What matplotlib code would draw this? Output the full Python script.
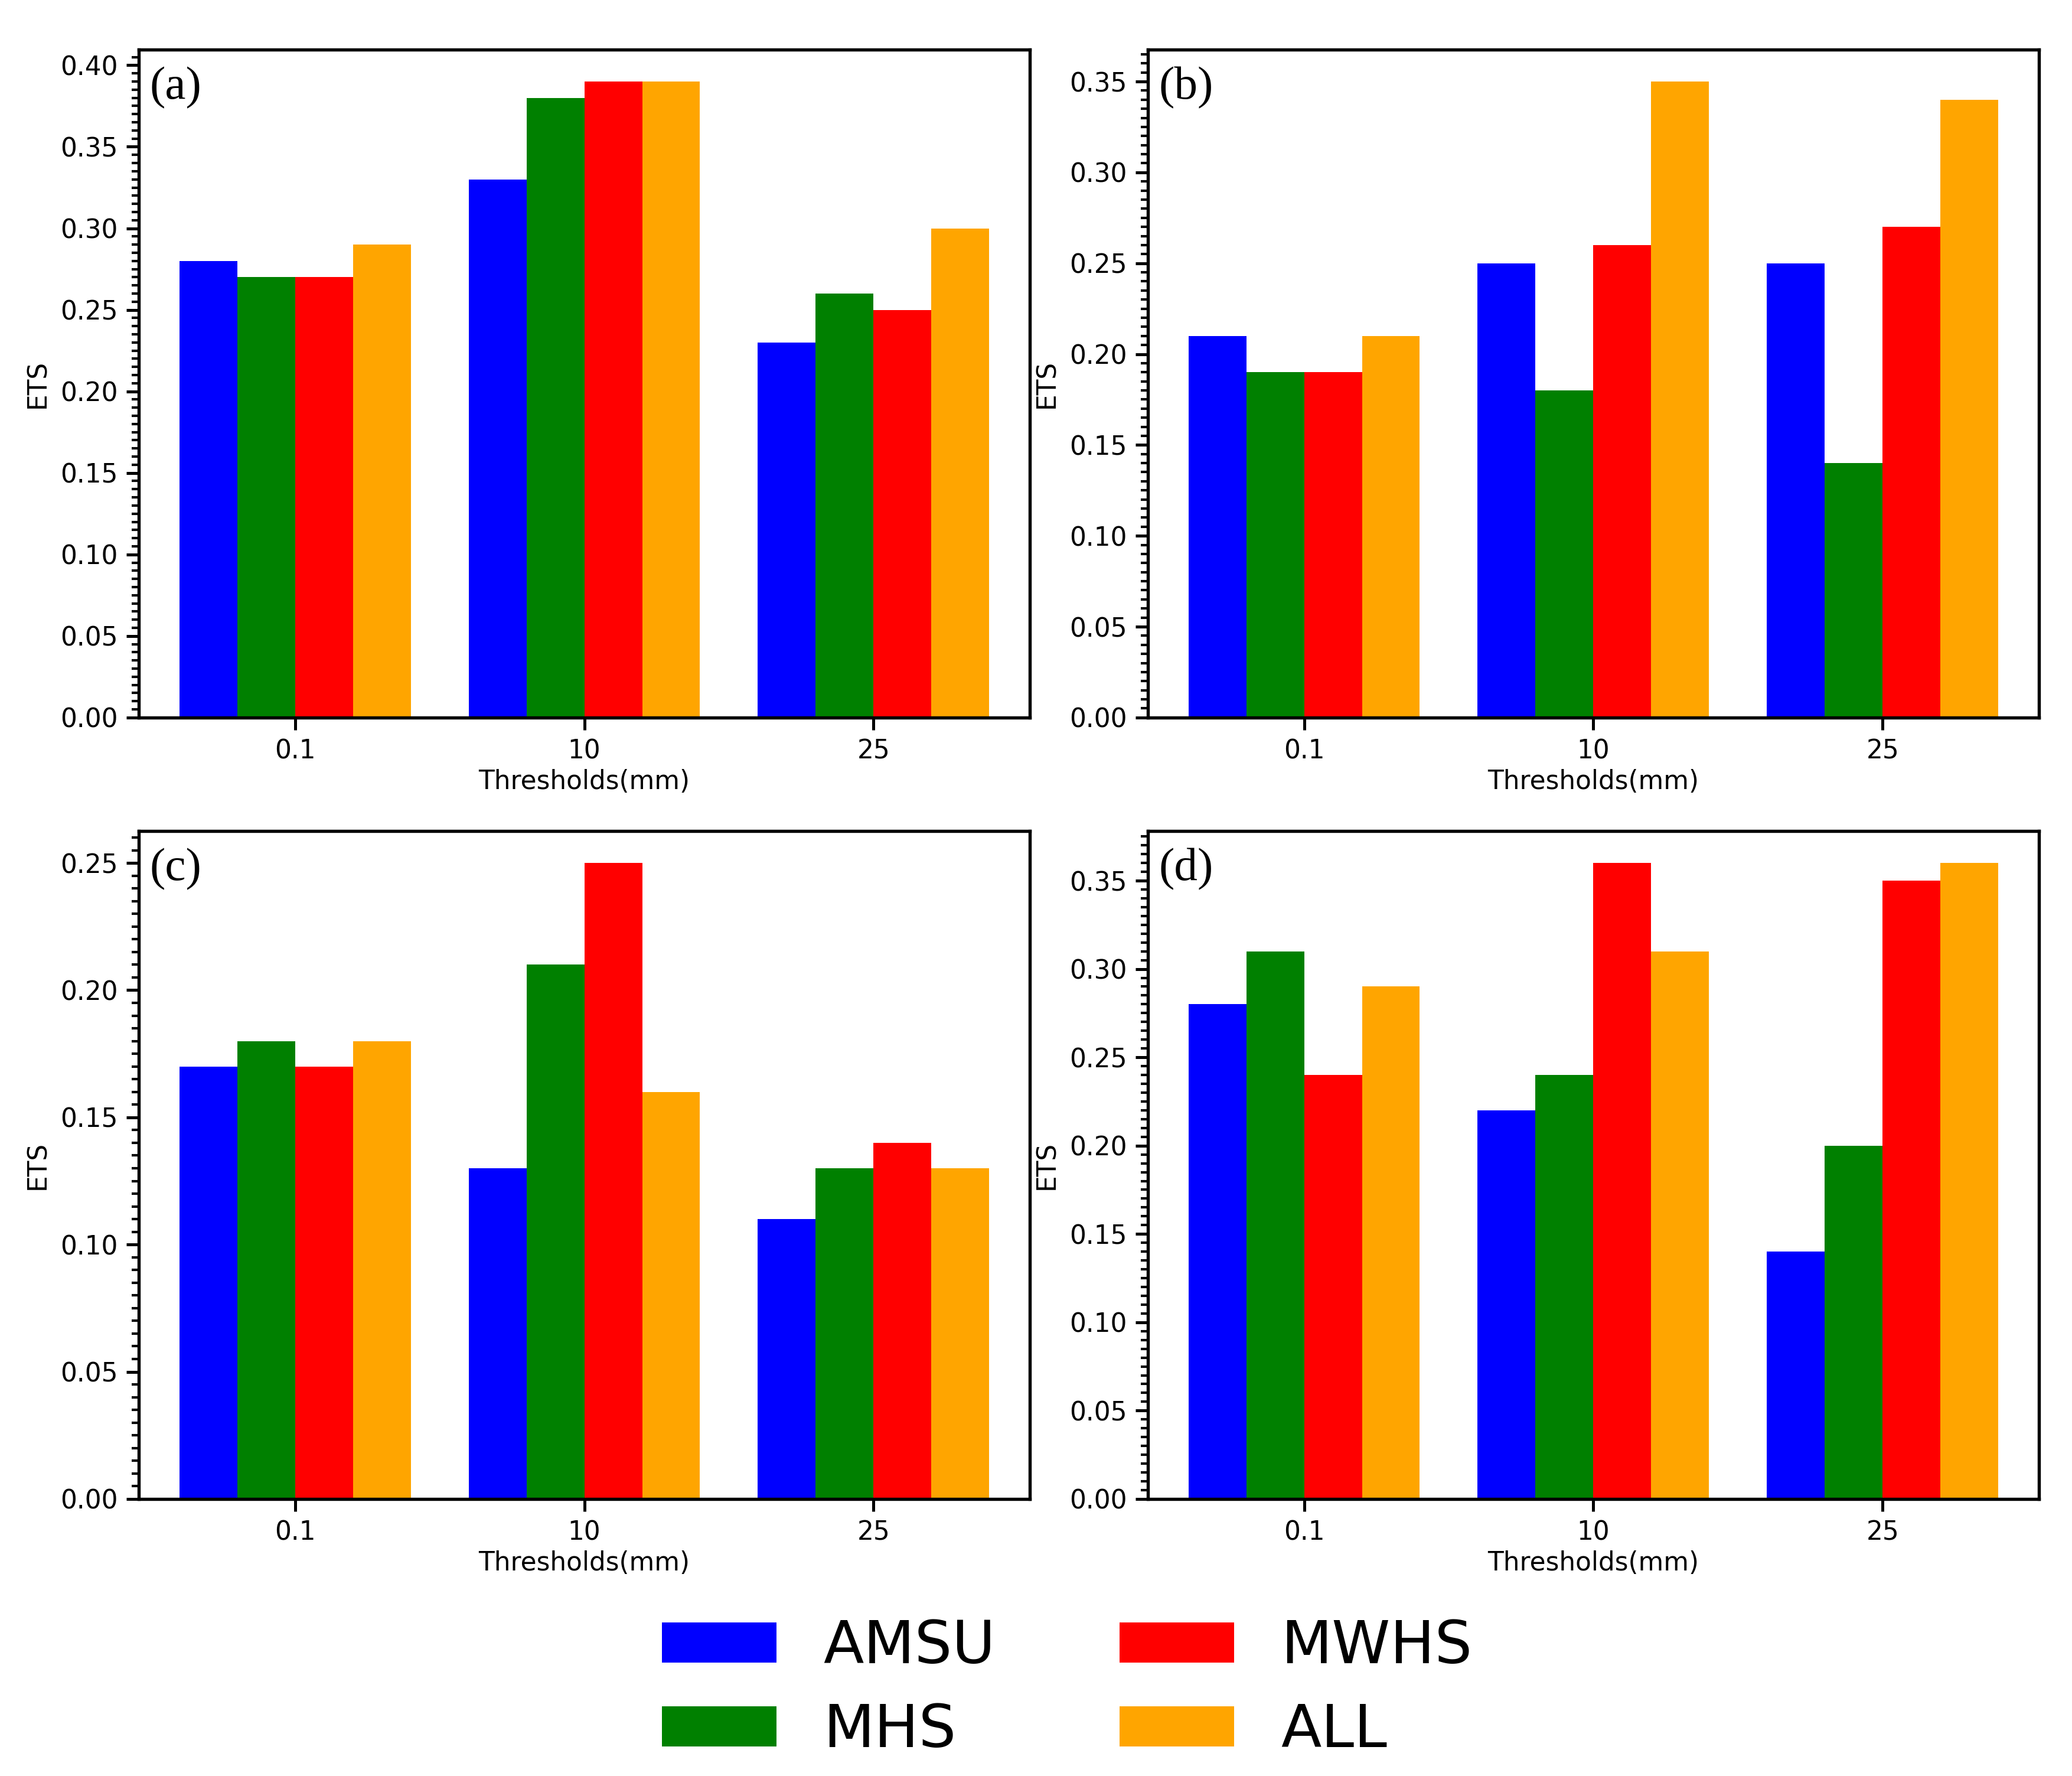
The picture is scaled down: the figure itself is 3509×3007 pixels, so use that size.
import numpy as np
import matplotlib
matplotlib.use('Agg')
import matplotlib.pyplot as plt
from matplotlib.ticker import MultipleLocator

thresholds = ['0.1', '10', '25']
series = ['AMSU', 'MHS', 'MWHS', 'ALL']
colors = ['blue', 'green', 'red', 'orange']

# ETS values per panel, one list per series (AMSU, MHS, MWHS, ALL)
ets_a = [[0.28, 0.33, 0.23], [0.27, 0.38, 0.26], [0.27, 0.39, 0.25], [0.29, 0.39, 0.30]]
ets_b = [[0.21, 0.25, 0.25], [0.19, 0.18, 0.14], [0.19, 0.26, 0.27], [0.21, 0.35, 0.34]]
ets_c = [[0.17, 0.13, 0.11], [0.18, 0.21, 0.13], [0.17, 0.25, 0.14], [0.18, 0.16, 0.13]]
ets_d = [[0.28, 0.22, 0.14], [0.31, 0.24, 0.20], [0.24, 0.36, 0.35], [0.29, 0.31, 0.36]]
panels = ['(a)', '(b)', '(c)', '(d)']

fig = plt.figure(figsize=(3509 / 300, 3007 / 300), dpi=300)

# axes boxes: left, bottom, width, height
boxes = [[0.067, 0.596, 0.430, 0.376],
         [0.554, 0.596, 0.430, 0.376],
         [0.067, 0.156, 0.430, 0.376],
         [0.554, 0.156, 0.430, 0.376]]

x = np.arange(len(thresholds))
w = 0.2
handles = []
for data, box, lab in zip([ets_a, ets_b, ets_c, ets_d], boxes, panels):
    ax = fig.add_axes(box)
    for i, (vals, c, name) in enumerate(zip(data, colors, series)):
        b = ax.bar(x + (i - 1.5) * w, vals, w, color=c, label=name)
        if lab == '(a)':
            handles.append(b)
    ax.set_xticks(x)
    ax.set_xticklabels(thresholds)
    ax.yaxis.set_major_locator(MultipleLocator(0.05))
    ax.yaxis.set_minor_locator(MultipleLocator(0.005))
    ax.yaxis.set_major_formatter(matplotlib.ticker.FormatStrFormatter('%.2f'))
    ax.tick_params(labelsize=10.5, width=1.2, length=5)
    ax.tick_params(which='minor', width=1.0, length=3)
    for s in ax.spines.values():
        s.set_linewidth(1.3)
    ax.set_xlabel('Thresholds(mm)', fontsize=10.5, labelpad=2)
    ax.set_ylabel('ETS', fontsize=10.5)
    ax.text(0.012, 0.975, lab, transform=ax.transAxes, va='top', ha='left',
            fontsize=19, family=['Liberation Serif', 'DejaVu Serif'])

fig.legend(handles, series, loc='center', bbox_to_anchor=(0.515, 0.049), ncol=2,
           frameon=False, fontsize=24, handlelength=1.94, handleheight=0.68,
           columnspacing=2.1, handletextpad=0.79, labelspacing=0.45)

fig.savefig('out.png', dpi=300)
